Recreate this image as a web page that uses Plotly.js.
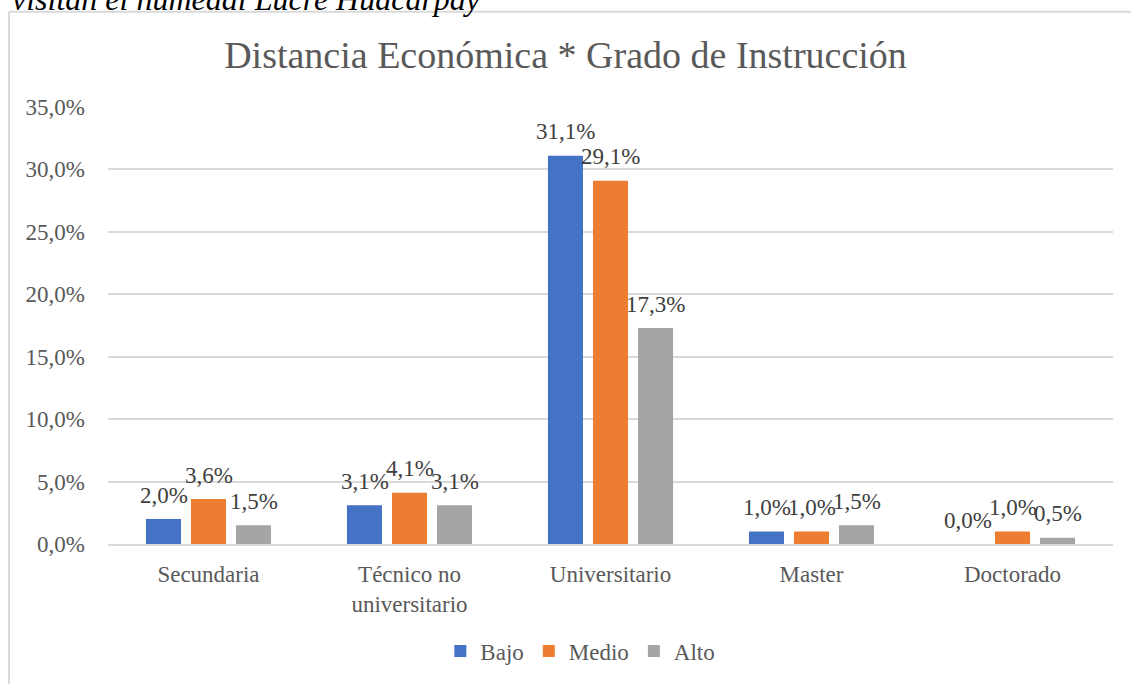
<!DOCTYPE html>
<html>
<head>
<meta charset="utf-8">
<script src="https://cdn.plot.ly/plotly-3.0.1.min.js"></script>
<style>
html,body{margin:0;padding:0;background:#fff;overflow:hidden;}
#chart{width:1131px;height:684px;}
</style>
</head>
<body>
<div id="chart"></div>
<script>
const categories = ["Secundaria", "Técnico no<br>universitario", "Universitario", "Master", "Doctorado"];
const seriesNames = ["Bajo", "Medio", "Alto"];
const bajo = [2.0, 3.1, 31.1, 1.0, 0.0];
const medio = [3.6, 4.1, 29.1, 1.0, 1.0];
const alto = [1.5, 3.1, 17.3, 1.5, 0.5];
const colors = ["#4472C4", "#ED7D31", "#A5A5A5"];
const tickVals = [0, 5, 10, 15, 20, 25, 30, 35];
const tickText = ["0,0%", "5,0%", "10,0%", "15,0%", "20,0%", "25,0%", "30,0%", "35,0%"];

const fmtPct = v => v.toFixed(1).replace('.', ',') + '%';
const SERIF = "Liberation Serif";
const allSeries = [bajo, medio, alto];

const traces = allSeries.map((vals, i) => ({
  type: 'bar',
  name: seriesNames[i],
  x: categories,
  y: vals,
  marker: {color: colors[i]},
  hoverinfo: 'x+y'
}));

// data labels centred above each bar (Excel-style), positioned on the data axes
const labelAnns = [];
allSeries.forEach((vals, i) => {
  vals.forEach((v, j) => {
    labelAnns.push({
      x: categories[j], y: v, xref: 'x', yref: 'y',
      text: fmtPct(v), showarrow: false,
      xshift: (i - 1) * 45, yshift: 24, yanchor: 'middle', xanchor: 'center',
      font: {family: SERIF, size: 23, color: '#404040'}
    });
  });
});

const layout = {
  width: 1131, height: 684,
  margin: {l: 108, r: 18, t: 107, b: 137},
  paper_bgcolor: '#fff', plot_bgcolor: '#fff',
  font: {family: SERIF, color: '#595959', size: 23},
  title: {text: 'Distancia Económica * Grado de Instrucción', font: {family: SERIF, size: 38, color: '#595959'}, x: 0.5, xanchor: 'center', y: 0.92, yanchor: 'middle'},
  barmode: 'group',
  bargap: 0.328,
  bargroupgap: 0.222,
  xaxis: {
    tickfont: {family: SERIF, size: 23, color: '#595959'},
    showgrid: false, showline: true, linecolor: '#d9d9d9', linewidth: 1.5,
    ticks: '', ticklabelstandoff: 9, fixedrange: true
  },
  yaxis: {
    range: [0, 35], tickvals: tickVals, ticktext: tickText,
    tickfont: {family: SERIF, size: 23, color: '#595959'},
    showgrid: true, gridcolor: '#d9d9d9', gridwidth: 1.5,
    zeroline: false, showline: false, ticks: '', ticklabelstandoff: 22, fixedrange: true
  },
  legend: {
    orientation: 'h', x: 0.47, xanchor: 'center', y: -0.245, yanchor: 'middle',
    font: {family: SERIF, size: 23, color: '#595959'},
    traceorder: 'normal', itemwidth: 30
  },
  shapes: [
    {type: 'line', xref: 'paper', yref: 'paper', x0: -0.0985, x1: -0.0985, y0: 1.218, y1: -0.32, line: {color: '#d9d9d9', width: 2}},
    {type: 'line', xref: 'paper', yref: 'paper', x0: -0.0985, x1: 1.02, y0: 1.218, y1: 1.218, line: {color: '#d9d9d9', width: 2}}
  ],
  annotations: [
    {text: '<i>visitan el humedal Lucre Huacarpay</i>', xref: 'paper', yref: 'paper', x: -0.0975, xanchor: 'left', y: 1.2023, yanchor: 'bottom', showarrow: false, font: {family: SERIF, size: 32, color: '#000'}}
  ].concat(labelAnns),
  showlegend: true
};

Plotly.newPlot('chart', traces, layout, {displayModeBar: false});
</script>
</body>
</html>
